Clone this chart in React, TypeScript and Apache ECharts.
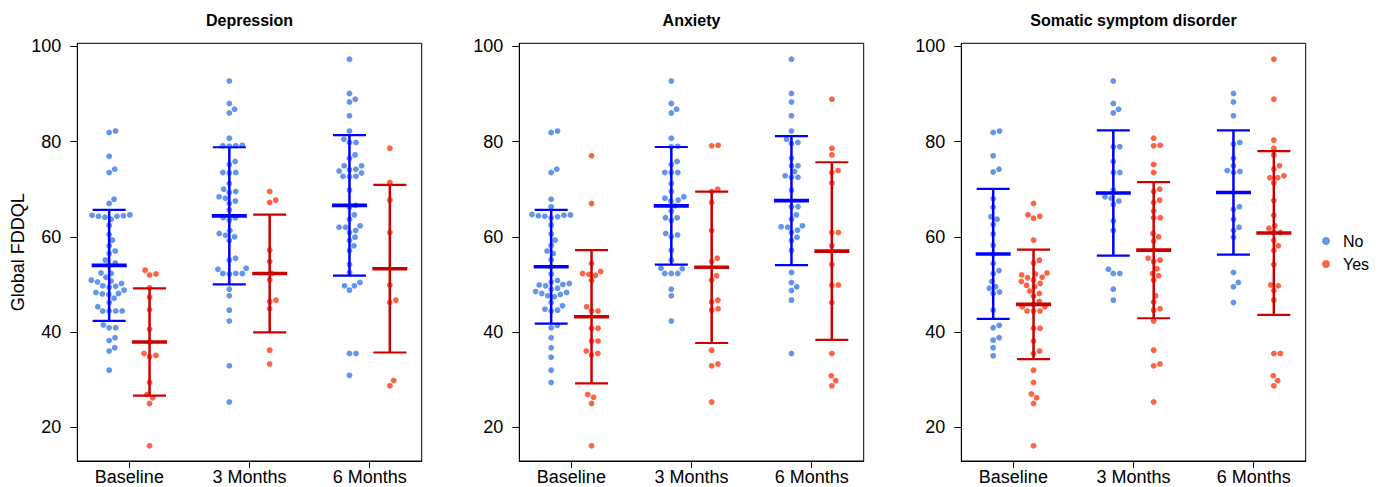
import React, { useEffect, useRef } from 'react';
import * as echarts from 'echarts';

// ---------- data ----------
const categories = ['Baseline', '3 Months', '6 Months'];
const panelTitles = ['Depression', 'Anxiety', 'Somatic symptom disorder'];
const groupNames = ['No', 'Yes'];
const yTicks = [20, 40, 60, 80, 100];
const xTicks = [1, 2, 3];

// Depression
const depBaseNo = [82.2, 81.9, 76.9, 74.2, 73.5, 67.9, 67.0, 64.6, 64.5, 64.4, 64.3, 64.3, 64.1, 63.7, 62.4, 60.5, 59.3, 58.1, 57.0, 56.5, 55.1, 54.5, 54.0, 52.4, 52.3, 51.5, 50.9, 50.7, 50.5, 50.2, 49.7, 49.6, 49.4, 48.8, 48.3, 48.1, 48.0, 47.9, 47.1, 46.2, 45.3, 44.4, 44.4, 44.4, 44.4, 41.5, 40.9, 40.9, 38.8, 38.2, 36.7, 36.0, 32.0];
const depBaseYes = [53.0, 52.2, 52.0, 49.3, 47.3, 44.7, 40.6, 37.9, 35.5, 35.1, 34.8, 29.4, 26.9, 26.2, 25.0, 16.1];
const dep3mNo = [92.7, 88.0, 86.8, 86.0, 80.7, 79.1, 79.1, 79.0, 79.2, 75.8, 75.2, 73.5, 73.5, 73.4, 71.2, 70.0, 69.5, 69.3, 68.4, 68.1, 67.5, 67.0, 65.6, 64.0, 64.0, 63.5, 61.3, 60.7, 60.3, 60.0, 59.2, 55.5, 55.1, 53.4, 53.2, 52.3, 52.3, 52.2, 52.3, 49.0, 47.6, 44.6, 42.3, 32.9, 25.3];
const dep3mYes = [69.5, 67.7, 67.2, 57.2, 54.8, 52.3, 51.0, 46.7, 46.4, 44.9, 36.2, 33.3];
const dep6mNo = [97.3, 90.1, 88.9, 88.3, 85.4, 82.2, 80.5, 79.8, 79.8, 77.2, 76.5, 74.9, 74.9, 74.2, 74.1, 73.8, 73.4, 72.7, 72.7, 72.6, 69.8, 66.6, 66.2, 64.6, 63.7, 62.3, 62.0, 62.0, 61.3, 60.9, 59.9, 59.2, 58.1, 57.1, 54.2, 52.5, 50.4, 49.7, 49.7, 48.8, 35.5, 35.5, 30.9];
const dep6mYes = [78.6, 71.4, 67.7, 60.9, 49.9, 46.7, 46.2, 29.8, 28.7];

// Anxiety
const anxBaseNo = [82.2, 81.9, 74.2, 73.5, 67.9, 66.3, 64.7, 64.6, 64.5, 64.4, 64.3, 64.2, 64.0, 62.5, 60.6, 59.3, 58.2, 57.0, 56.5, 55.2, 53.7, 52.2, 50.8, 50.5, 50.2, 50.0, 49.9, 49.7, 49.2, 49.0, 48.5, 48.3, 48.1, 47.9, 47.6, 47.4, 46.2, 45.5, 44.8, 44.6, 44.4, 41.4, 40.9, 38.8, 36.7, 34.7, 32.0, 29.4];
const anxBaseYes = [77.0, 67.0, 54.4, 52.7, 52.3, 52.1, 51.9, 50.8, 45.3, 44.4, 44.4, 40.8, 40.8, 38.1, 38.1, 36.0, 35.5, 35.2, 26.9, 26.3, 25.0, 16.1];
const anx3mNo = [92.7, 88.0, 86.8, 86.0, 80.7, 79.0, 78.9, 75.8, 75.2, 73.5, 73.5, 73.5, 71.2, 69.5, 68.4, 68.1, 67.7, 67.5, 66.5, 65.4, 64.0, 64.0, 63.4, 60.7, 60.4, 60.0, 57.2, 55.1, 53.4, 53.3, 52.3, 52.3, 52.3, 49.0, 47.6, 42.3];
const anx3mYes = [79.2, 79.1, 70.0, 69.5, 67.2, 61.3, 55.5, 54.8, 51.8, 50.9, 46.7, 46.3, 44.9, 44.6, 36.2, 33.3, 32.9, 25.3];
const anx6mNo = [97.3, 90.1, 88.3, 85.4, 82.2, 80.5, 79.8, 79.6, 76.5, 74.9, 74.9, 73.7, 72.8, 72.5, 72.5, 69.8, 66.3, 66.3, 64.6, 63.7, 62.3, 62.1, 62.0, 61.4, 60.9, 59.9, 59.2, 57.1, 52.5, 50.4, 49.5, 48.7, 46.7, 35.5];
const anx6mYes = [88.9, 78.6, 77.2, 73.9, 73.5, 71.3, 60.9, 60.9, 58.1, 54.2, 49.9, 49.8, 46.2, 35.5, 30.8, 29.8, 28.7];

// Somatic symptom disorder
const somBaseNo = [82.2, 81.9, 77.0, 74.2, 73.6, 68.0, 66.2, 64.2, 63.7, 62.6, 60.6, 58.2, 56.4, 54.4, 52.9, 52.3, 50.6, 49.5, 49.2, 48.4, 48.1, 44.6, 41.4, 40.9, 38.8, 38.3, 36.7, 35.0];
const somBaseYes = [67.0, 64.6, 64.3, 63.9, 59.3, 55.1, 54.5, 52.4, 52.2, 52.0, 51.5, 51.4, 50.9, 50.6, 50.2, 49.8, 49.5, 48.6, 48.1, 47.5, 46.4, 45.8, 45.3, 45.3, 44.4, 44.4, 44.4, 40.8, 40.8, 38.1, 36.0, 35.5, 32.0, 29.4, 27.0, 26.2, 25.0, 16.1];
const som3mNo = [92.7, 88.0, 86.8, 86.0, 78.9, 78.9, 75.8, 73.5, 73.5, 69.8, 68.4, 68.1, 67.5, 66.8, 63.3, 61.3, 53.2, 52.3, 52.3, 49.0, 46.7];
const som3mYes = [80.7, 79.2, 79.1, 75.2, 73.5, 70.0, 69.5, 67.7, 67.2, 65.4, 64.0, 64.0, 60.7, 60.0, 59.1, 55.5, 55.1, 54.8, 53.3, 52.3, 51.8, 50.9, 47.6, 46.3, 44.9, 44.6, 42.3, 36.2, 33.3, 32.9, 25.3];
const som6mNo = [90.1, 88.3, 85.4, 79.8, 79.5, 76.5, 74.9, 73.9, 73.7, 73.5, 66.3, 65.8, 63.7, 62.0, 61.3, 59.9, 52.5, 50.4, 49.5, 46.2];
const som6mYes = [97.3, 88.9, 80.3, 78.6, 77.2, 74.9, 74.2, 72.8, 72.4, 72.4, 71.3, 67.6, 64.5, 62.3, 61.8, 60.9, 60.9, 59.2, 58.1, 57.1, 54.2, 49.9, 49.7, 48.7, 46.7, 35.5, 35.5, 30.8, 29.8, 28.7];

// Mean and SD (error bars), per time point
const depMeanNo = [54.0, 64.4, 66.6];
const depSdNo = [11.65, 14.4, 14.75];
const depMeanYes = [37.9, 52.3, 53.3];
const depSdYes = [11.25, 12.35, 17.6];
const anxMeanNo = [53.7, 66.5, 67.6];
const anxSdNo = [11.95, 12.35, 13.55];
const anxMeanYes = [43.2, 53.6, 57.0];
const anxSdYes = [14.0, 15.9, 18.65];
const somMeanNo = [56.4, 69.2, 69.3];
const somSdNo = [13.65, 13.15, 13.05];
const somMeanYes = [45.8, 57.2, 60.8];
const somSdYes = [11.5, 14.3, 17.2];

// ---------- layout / style ----------
const W = 1398;
const H = 487;
const GRID_LEFTS = [77.3, 519.3, 961.3];
const GRID_TOP = 43.3;
const GRID_W = 344.4;
const GRID_H = 417.7;
const X_MIN = 0.5667;
const X_MAX = 3.4333;
const Y_MIN = 12.92;
const Y_MAX = 100.63;
const DODGE = 0.168;
const SWARM_D = 6.5;
const PX_PER_X = GRID_W / (X_MAX - X_MIN);
const PX_PER_Y = GRID_H / (Y_MAX - Y_MIN);
const FONT = '"Liberation Sans", Arial, Helvetica, sans-serif';
const POINT_COLORS = ['#6495ED', '#FF6347'];
const BAR_COLORS = ['#0000FF', '#CC0000'];

function swarmOffsets(vals: number[]): number[] {
  const d = SWARM_D;
  const order = vals.map((_, i) => i).sort((a, b) => vals[a] - vals[b]);
  const placed: { x: number; y: number }[] = [];
  const out: number[] = new Array(vals.length).fill(0);
  for (const i of order) {
    const y = vals[i] * PX_PER_Y;
    const near = placed.filter((p) => Math.abs(p.y - y) < d);
    const cands: number[] = [0];
    for (const p of near) {
      const dx = Math.sqrt(d * d - (p.y - y) * (p.y - y));
      cands.push(p.x + dx, p.x - dx);
    }
    cands.sort((a, b) => Math.abs(a) - Math.abs(b) || b - a);
    let chosen = 0;
    for (const c of cands) {
      if (near.every((p) => (p.x - c) * (p.x - c) + (p.y - y) * (p.y - y) >= d * d - 1e-6)) {
        chosen = c;
        break;
      }
    }
    out[i] = chosen;
    placed.push({ x: chosen, y });
  }
  return out;
}

const panelPoints = [
  [[depBaseNo, dep3mNo, dep6mNo], [depBaseYes, dep3mYes, dep6mYes]],
  [[anxBaseNo, anx3mNo, anx6mNo], [anxBaseYes, anx3mYes, anx6mYes]],
  [[somBaseNo, som3mNo, som6mNo], [somBaseYes, som3mYes, som6mYes]],
];
const panelStats = [
  [[depMeanNo, depSdNo], [depMeanYes, depSdYes]],
  [[anxMeanNo, anxSdNo], [anxMeanYes, anxSdYes]],
  [[somMeanNo, somSdNo], [somMeanYes, somSdYes]],
];

function buildOption() {
  const grids: any[] = [];
  const xAxes: any[] = [];
  const yAxes: any[] = [];
  const series: any[] = [];

  panelTitles.forEach((_, p) => {
    grids.push({
      left: GRID_LEFTS[p],
      top: GRID_TOP,
      width: GRID_W,
      height: GRID_H,
      show: true,
      borderColor: '#000',
      borderWidth: 1,
      backgroundColor: 'transparent',
      containLabel: false,
      outerBoundsMode: 'none',
    });
    xAxes.push({
      gridIndex: p,
      type: 'value',
      min: X_MIN,
      max: X_MAX,
      axisLine: { show: true, onZero: false, lineStyle: { color: '#000', width: 1 } },
      axisTick: { show: true, inside: false, length: 7, customValues: xTicks, lineStyle: { color: '#000', width: 1 } },
      axisLabel: {
        show: true,
        customValues: xTicks,
        formatter: (v: number) => categories[Math.round(v) - 1] ?? '',
        margin: 7,
        fontSize: 18,
        color: '#000',
        fontFamily: FONT,
      },
      splitLine: { show: false },
    });
    yAxes.push({
      gridIndex: p,
      type: 'value',
      min: Y_MIN,
      max: Y_MAX,
      axisLine: { show: true, onZero: false, lineStyle: { color: '#000', width: 1 } },
      axisTick: { show: true, inside: false, length: 7, customValues: yTicks, lineStyle: { color: '#000', width: 1 } },
      axisLabel: {
        show: true,
        customValues: yTicks,
        margin: 16,
        fontSize: 18,
        color: '#000',
        fontFamily: FONT,
      },
      splitLine: { show: false },
    });

    groupNames.forEach((gName, g) => {
      const data: number[][] = [];
      panelPoints[p][g].forEach((vals, t) => {
        const offs = swarmOffsets(vals);
        const cx = t + 1 + (g === 0 ? -DODGE : DODGE);
        vals.forEach((v, k) => data.push([cx + offs[k] / PX_PER_X, v]));
      });
      series.push({
        name: gName,
        type: 'scatter',
        xAxisIndex: p,
        yAxisIndex: p,
        symbol: 'circle',
        symbolSize: 5.8,
        itemStyle: { color: POINT_COLORS[g], opacity: 1 },
        data,
        silent: true,
        z: 2,
      });
    });

    const barData: number[][] = [];
    groupNames.forEach((_, g) => {
      const [means, sds] = panelStats[p][g];
      means.forEach((m, t) => {
        const cx = t + 1 + (g === 0 ? -DODGE : DODGE);
        barData.push([cx, m - sds[t], m, m + sds[t], g]);
      });
    });
    series.push({
      type: 'custom',
      xAxisIndex: p,
      yAxisIndex: p,
      silent: true,
      z: 3,
      encode: { x: 0, y: [1, 2, 3] },
      data: barData,
      renderItem: (_params: any, api: any) => {
        const x = api.value(0);
        const lo = api.coord([x, api.value(1)]);
        const mid = api.coord([x, api.value(2)]);
        const hi = api.coord([x, api.value(3)]);
        const color = BAR_COLORS[api.value(4)];
        const cw = 16.5;
        const mw = 17.5;
        return {
          type: 'group',
          children: [
            { type: 'line', shape: { x1: lo[0], y1: lo[1], x2: hi[0], y2: hi[1] }, style: { stroke: color, lineWidth: 2.5 } },
            { type: 'line', shape: { x1: lo[0] - cw, y1: lo[1], x2: lo[0] + cw, y2: lo[1] }, style: { stroke: color, lineWidth: 2.2 } },
            { type: 'line', shape: { x1: hi[0] - cw, y1: hi[1], x2: hi[0] + cw, y2: hi[1] }, style: { stroke: color, lineWidth: 2.2 } },
            { type: 'line', shape: { x1: mid[0] - mw, y1: mid[1], x2: mid[0] + mw, y2: mid[1] }, style: { stroke: color, lineWidth: 3.6 } },
          ],
        };
      },
    });
  });

  const graphic: any[] = panelTitles.map((t, i) => ({
    type: 'text',
    x: GRID_LEFTS[i] + GRID_W / 2,
    y: 20,
    silent: true,
    style: {
      text: t,
      fontSize: 16,
      fontWeight: 'bold',
      fontFamily: FONT,
      fill: '#000',
      textAlign: 'center',
      textVerticalAlign: 'middle',
    },
  }));
  graphic.push({
    type: 'text',
    x: 18,
    y: GRID_TOP + GRID_H / 2,
    rotation: Math.PI / 2,
    silent: true,
    style: {
      text: 'Global FDDQL',
      fontSize: 18,
      fontFamily: FONT,
      fill: '#000',
      textAlign: 'center',
      textVerticalAlign: 'middle',
    },
  });

  return {
    animation: false,
    backgroundColor: '#fff',
    grid: grids,
    xAxis: xAxes,
    yAxis: yAxes,
    legend: {
      data: groupNames,
      orient: 'vertical',
      left: 1322,
      top: 233,
      padding: 0,
      itemWidth: 24,
      itemHeight: 8,
      itemGap: 7,
      icon: 'circle',
      selectedMode: false,
      textStyle: { fontSize: 16, color: '#000', fontFamily: FONT },
    },
    graphic,
    series,
  };
}

export default function App() {
  const ref = useRef<HTMLDivElement>(null);
  useEffect(() => {
    document.body.style.margin = '0';
    const chart = echarts.init(ref.current as HTMLDivElement, null, { renderer: 'svg' });
    chart.setOption(buildOption() as any);
    return () => chart.dispose();
  }, []);
  return <div ref={ref} style={{ width: W, height: H, position: 'absolute', left: 0, top: 0 }} />;
}
